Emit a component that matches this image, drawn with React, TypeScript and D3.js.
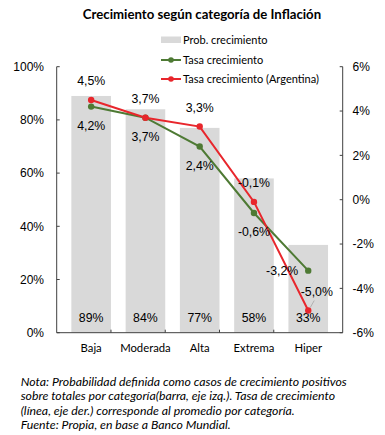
import React from "react";
import * as d3 from "d3";

const categories = ["Baja", "Moderada", "Alta", "Extrema", "Hiper"];
const probCrecimiento = [89, 84, 77, 58, 33];
const tasaCrecimiento = [4.2, 3.7, 2.4, -0.6, -3.2];
const tasaArgentina = [4.5, 3.7, 3.3, -0.1, -5.0];
const leftTicks = [0, 20, 40, 60, 80, 100];
const rightTicks = [-6, -4, -2, 0, 2, 4, 6];
const title = "Crecimiento según categoría de Inflación";
const legendLabels = ["Prob. crecimiento", "Tasa crecimiento", "Tasa crecimiento (Argentina)"];
const notes = [
  "Nota: Probabilidad definida como casos de crecimiento positivos",
  "sobre totales por categoría(barra, eje izq.). Tasa de crecimiento",
  "(línea, eje der.) corresponde al promedio por categoría.",
  "Fuente: Propia, en base a Banco Mundial.",
];

const W = 385;
const H = 435;
const plot = { left: 56.7, right: 342.7, top: 66.7, bottom: 332.7 };
const GRAY = "#d9d9d9";
const GREEN = "#4e7a34";
const RED = "#e8262c";
const AXIS = "#404040";
const NUM_FONT = "'Liberation Sans', Arial, sans-serif";
const TXT_FONT = "Lato, 'Open Sans', sans-serif";

const fmt = (v: number) => v.toFixed(1).replace(".", ",") + "%";

export default function App() {
  const x = d3.scaleBand<string>().domain(categories).range([plot.left, plot.right]).padding(0.27);
  const yL = d3.scaleLinear().domain([0, 100]).range([plot.bottom, plot.top]);
  const yR = d3.scaleLinear().domain([-6, 6]).range([plot.bottom, plot.top]);
  const cx = (c: string) => (x(c) as number) + x.bandwidth() / 2;
  const line = d3
    .line<number>()
    .x((_, i) => cx(categories[i]))
    .y((d) => yR(d));
  const step = x.step();
  const n = categories.length;

  return (
    <svg width={W} height={H} style={{ position: "absolute", left: 0, top: 0, background: "#fff" }}>
      <text x={202} y={18.5} textAnchor="middle" fontFamily={TXT_FONT} fontWeight="bold" fontSize={13.2} fill="#000">
        {title}
      </text>

      {/* Legend */}
      <g fontFamily={TXT_FONT} fontSize={11} fill="#000">
        <rect x={161} y={36.5} width={20} height={6.5} fill={GRAY} />
        <text x={183} y={44}>{legendLabels[0]}</text>
        <line x1={161} x2={181} y1={60} y2={60} stroke={GREEN} strokeWidth={2} />
        <circle cx={171} cy={60} r={2.8} fill={GREEN} />
        <text x={183} y={64}>{legendLabels[1]}</text>
        <line x1={161} x2={181} y1={79} y2={79} stroke={RED} strokeWidth={2} />
        <circle cx={171} cy={79} r={2.8} fill={RED} />
        <text x={183} y={83}>{legendLabels[2]}</text>
      </g>

      {/* Bars */}
      {categories.map((c, i) => (
        <rect
          key={c}
          x={x(c)}
          y={yL(probCrecimiento[i])}
          width={x.bandwidth()}
          height={plot.bottom - yL(probCrecimiento[i])}
          fill={GRAY}
        />
      ))}
      {categories.map((c, i) => (
        <text key={c} x={cx(c)} y={322} textAnchor="middle" fontFamily={NUM_FONT} fontSize={12.3} fill="#000">
          {probCrecimiento[i] + "%"}
        </text>
      ))}

      {/* Axes */}
      <g stroke={AXIS} strokeWidth={1} fill="none">
        <line x1={plot.left} x2={plot.left} y1={plot.top} y2={plot.bottom} />
        <line x1={plot.right} x2={plot.right} y1={plot.top} y2={plot.bottom} />
        <line x1={plot.left} x2={plot.right} y1={plot.bottom} y2={plot.bottom} />
        {leftTicks.map((t) => (
          <line key={t} x1={plot.left} x2={plot.left + 3} y1={yL(t)} y2={yL(t)} />
        ))}
        {rightTicks.map((t) => (
          <line key={t} x1={plot.right - 3} x2={plot.right} y1={yR(t)} y2={yR(t)} />
        ))}
        {d3.range(1, n).map((i) => (
          <line key={i} x1={plot.left + i * step} x2={plot.left + i * step} y1={plot.bottom - 3} y2={plot.bottom} />
        ))}
      </g>
      <g fontFamily={NUM_FONT} fontSize={12} fill="#000">
        {leftTicks.map((t) => (
          <text key={t} x={44} y={yL(t) + 4.3} textAnchor="end">
            {t + "%"}
          </text>
        ))}
        {rightTicks.map((t) => (
          <text key={t} x={352.5} y={yR(t) + 4.3} textAnchor="start">
            {t + "%"}
          </text>
        ))}
      </g>
      <g fontFamily={TXT_FONT} fontSize={11.3} fill="#000">
        {categories.map((c) => (
          <text key={c} x={cx(c)} y={352} textAnchor="middle">
            {c}
          </text>
        ))}
      </g>

      {/* Lines */}
      <path d={line(tasaCrecimiento) || ""} fill="none" stroke={GREEN} strokeWidth={2} />
      {tasaCrecimiento.map((v, i) => (
        <circle key={i} cx={cx(categories[i])} cy={yR(v)} r={3.2} fill={GREEN} />
      ))}
      <path d={line(tasaArgentina) || ""} fill="none" stroke={RED} strokeWidth={2} />
      {tasaArgentina.map((v, i) => (
        <circle key={i} cx={cx(categories[i])} cy={yR(v)} r={3.2} fill={RED} />
      ))}

      {/* Line labels */}
      <g fontFamily={NUM_FONT} fontSize={12.3} fill="#000">
        {tasaCrecimiento.map((v, i) => {
          const last = i === n - 1;
          const px = cx(categories[i]);
          const py = yR(v);
          return (
            <text key={i} x={last ? px - 10 : px} y={last ? py + 4.5 : py + 23} textAnchor={last ? "end" : "middle"}>
              {fmt(v)}
            </text>
          );
        })}
        {tasaArgentina.map((v, i) => {
          const last = i === n - 1;
          const px = cx(categories[i]);
          const py = yR(v);
          return (
            <text key={i} x={last ? px - 7.5 : px} y={py - 14.5} textAnchor={last ? "start" : "middle"}>
              {fmt(v)}
            </text>
          );
        })}
      </g>
      <line
        x1={cx(categories[n - 1]) + 6}
        y1={yR(tasaArgentina[n - 1]) - 10}
        x2={cx(categories[n - 1]) + 2}
        y2={yR(tasaArgentina[n - 1]) - 3}
        stroke="#a6a6a6"
        strokeWidth={0.8}
      />

      {/* Notes */}
      <g fontFamily={TXT_FONT} fontStyle="italic" fontSize={12.3} fill="#000">
        {notes.map((t, i) => (
          <text key={i} x={20.7} y={385.5 + i * 14.5}>
            {t}
          </text>
        ))}
      </g>
    </svg>
  );
}
